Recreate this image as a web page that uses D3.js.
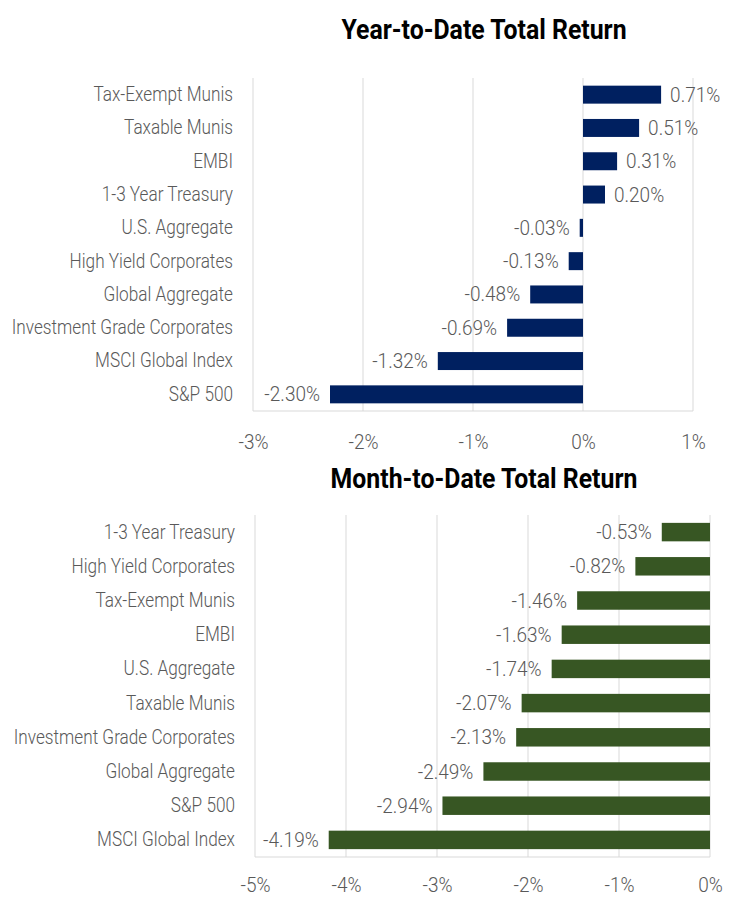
<!DOCTYPE html>
<html>
<head>
<meta charset="utf-8">
<script src="https://cdn.jsdelivr.net/npm/d3@7"></script>
<style>
  body { margin: 0; background: #fff; }
  svg text { font-family: Roboto, "Noto Sans", sans-serif; }
</style>
</head>
<body>
<svg id="chart" width="734" height="905"></svg>
<script>
// Year-to-date
const ytdCategories = ["Tax-Exempt Munis", "Taxable Munis", "EMBI", "1-3 Year Treasury", "U.S. Aggregate",
    "High Yield Corporates", "Global Aggregate", "Investment Grade Corporates", "MSCI Global Index", "S&P 500"]
const ytdValues = [0.71, 0.51, 0.31, 0.20, -0.03, -0.13, -0.48, -0.69, -1.32, -2.30]
const ytdTicks = [-3, -2, -1, 0, 1]

// Month-to-date
const mtdCategories = ["1-3 Year Treasury", "High Yield Corporates", "Tax-Exempt Munis", "EMBI", "U.S. Aggregate",
    "Taxable Munis", "Investment Grade Corporates", "Global Aggregate", "S&P 500", "MSCI Global Index"]
const mtdValues = [-0.53, -0.82, -1.46, -1.63, -1.74, -2.07, -2.13, -2.49, -2.94, -4.19]
const mtdTicks = [-5, -4, -3, -2, -1, 0]

const textColor = "#595959"
const gridColor = "#d9d9d9"
const fontSize = 20
const squeezeName = 0.86 // fake a condensed face
const squeezeNum = 0.95

const svg = d3.select("#chart")

function renderBars(opts) {
    const { title, categories, values, ticks, color, x0, x1, y0, y1, titleY, tickGap } = opts
    const rows = categories.map((c, i) => ({ name: c, value: values[i] }))

    const x = d3.scaleLinear().domain(d3.extent(ticks)).range([x0, x1])
    const y = d3.scaleBand().domain(categories).range([y0, y1]).paddingInner(0.46).paddingOuter(0.23)

    const g = svg.append("g")

    // title
    g.append("text")
        .attr("transform", `translate(484,${titleY}) scale(0.92,1)`)
        .attr("text-anchor", "middle")
        .attr("font-size", 27).attr("font-weight", "bold")
        .attr("fill", "#000")
        .text(title)

    // vertical gridlines
    g.append("g")
        .selectAll("line")
        .data(ticks)
        .join("line")
        .attr("x1", d => x(d)).attr("x2", d => x(d))
        .attr("y1", y0).attr("y2", y1)
        .attr("stroke", gridColor).attr("stroke-width", 1)

    // bottom line
    g.append("line")
        .attr("x1", x0).attr("x2", x1)
        .attr("y1", y1).attr("y2", y1)
        .attr("stroke", gridColor)

    // bars
    g.append("g")
        .selectAll("rect")
        .data(rows)
        .join("rect")
        .attr("x", d => x(Math.min(0, d.value)))
        .attr("width", d => Math.abs(x(d.value) - x(0)))
        .attr("y", d => y(d.name))
        .attr("height", y.bandwidth())
        .attr("fill", color)

    // value labels
    g.append("g")
        .selectAll("text")
        .data(rows)
        .join("text")
        .attr("transform", d => {
            const tx = d.value < 0 ? x(d.value) - 10 : x(d.value) + 9
            return `translate(${tx},${y(d.name) + y.bandwidth() / 2}) scale(${squeezeNum},1)`
        })
        .attr("dy", "0.35em")
        .attr("text-anchor", d => d.value < 0 ? "end" : "start")
        .attr("font-size", fontSize).attr("font-weight", 300)
        .attr("fill", textColor)
        .text(d => d.value.toFixed(2) + "%")

    // category labels
    const yAxis = g.append("g")
        .attr("transform", `translate(${x0 - 20},0)`)
        .call(d3.axisLeft(y).tickSize(0).tickPadding(0))
    yAxis.select(".domain").remove()
    yAxis.selectAll("text")
        .attr("transform", `scale(${squeezeName},1)`)
        .attr("font-size", fontSize).attr("font-weight", 300)
        .attr("fill", textColor)

    // tick labels
    const xAxis = g.append("g")
        .attr("transform", `translate(0,${y1 + tickGap})`)
        .call(d3.axisBottom(x).tickValues(ticks).tickSize(0).tickPadding(0).tickFormat(d => d + "%"))
    xAxis.select(".domain").remove()
    xAxis.selectAll("text")
        .attr("transform", `scale(${squeezeNum},1)`)
        .attr("font-size", fontSize).attr("font-weight", 300)
        .attr("fill", textColor)
}

renderBars({
    title: "Year-to-Date Total Return",
    categories: ytdCategories, values: ytdValues, ticks: ytdTicks,
    color: "#002060",
    x0: 253, x1: 693, y0: 78, y1: 411, titleY: 39, tickGap: 24
})

renderBars({
    title: "Month-to-Date Total Return",
    categories: mtdCategories, values: mtdValues, ticks: mtdTicks,
    color: "#375623",
    x0: 255, x1: 710, y0: 515, y1: 857, titleY: 488, tickGap: 21
})
</script>
</body>
</html>
